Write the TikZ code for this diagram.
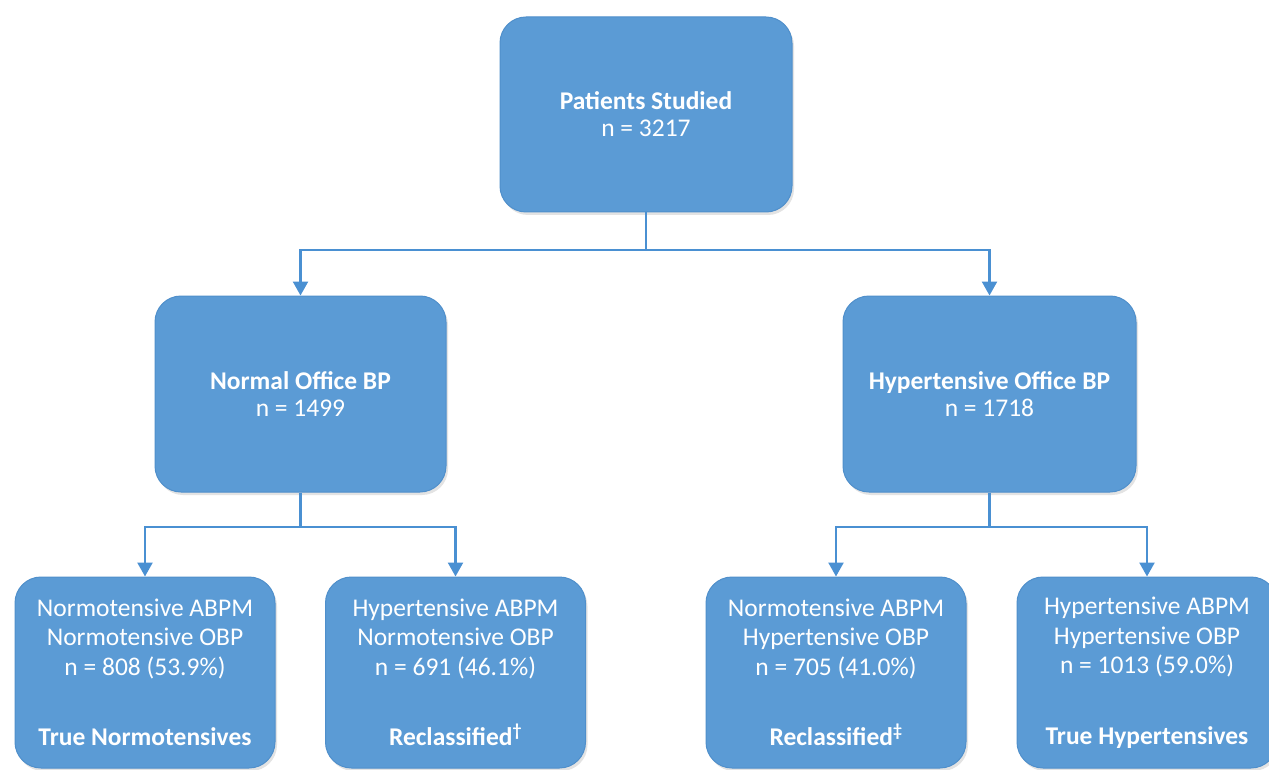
\documentclass[tikz,border=0pt]{standalone}
\usepackage{fontspec}
\setmainfont{Carlito}
\usetikzlibrary{arrows.meta,shadows}
\definecolor{boxblue}{HTML}{5B9BD5}
\definecolor{boxedge}{HTML}{4F8FCB}
\definecolor{lineblue}{HTML}{4A90D2}
\tikzset{
  flowbox/.style={rectangle, rounded corners=26pt, fill=boxblue, draw=boxedge, line width=1pt,
    text=white, align=center, inner sep=0pt,
    drop shadow={opacity=0.18, shadow xshift=2pt, shadow yshift=-3pt, fill=black!60},
    font=\fontsize{25.5}{27}\selectfont},
  bottombox/.style={flowbox, minimum width=260pt, minimum height=191pt,
    font=\fontsize{25.5}{29.5}\selectfont},
  conn/.style={draw=lineblue, line width=2.4pt, -{Triangle[width=15pt,length=14pt]}},
  plainconn/.style={draw=lineblue, line width=2.4pt}
}
\begin{document}
\begin{tikzpicture}[x=1pt,y=-1pt]
\useasboundingbox[fill=white] (0,0) rectangle (1269,770);
\node[flowbox, minimum width=292pt, minimum height=195pt] (top) at (646,114.5)
  {\textbf{Patients Studied}\\n = 3217};
\node[flowbox, minimum width=291pt, minimum height=196pt] (ml) at (300.5,394)
  {\textbf{Normal Office BP}\\n = 1499};
\node[flowbox, minimum width=293pt, minimum height=196pt] (mr) at (989.5,394)
  {\textbf{Hypertensive Office BP}\\n = 1718};
\node[bottombox] (b1) at (145,672.5)
  {Normotensive ABPM\\Normotensive OBP\\n = 808 (53.9\%)\\[41pt]\textbf{True Normotensives}};
\node[bottombox] (b2) at (455.5,672.5)
  {Hypertensive ABPM\\Normotensive OBP\\n = 691 (46.1\%)\\[41pt]\textbf{Reclassified\textsuperscript{†}}};
\node[bottombox] (b3) at (836,672.5)
  {Normotensive ABPM\\Hypertensive OBP\\n = 705 (41.0\%)\\[41pt]\textbf{Reclassified\textsuperscript{‡}}};
\node[bottombox] (b4) at (1147,672.5)
  {Hypertensive ABPM\\Hypertensive OBP\\n = 1013 (59.0\%)\\[41pt]\textbf{True Hypertensives}};
\coordinate (j1) at (646,250);
\coordinate (j2) at (300.5,527);
\coordinate (j3) at (989.5,527);
\draw[plainconn] (top.south) -- (j1);
\draw[conn] (j1) -| (ml.north);
\draw[conn] (j1) -| (mr.north);
\draw[plainconn] (ml.south) -- (j2);
\draw[conn] (j2) -| (b1.north);
\draw[conn] (j2) -| (b2.north);
\draw[plainconn] (mr.south) -- (j3);
\draw[conn] (j3) -| (b3.north);
\draw[conn] (j3) -| (b4.north);
\end{tikzpicture}
\end{document}
